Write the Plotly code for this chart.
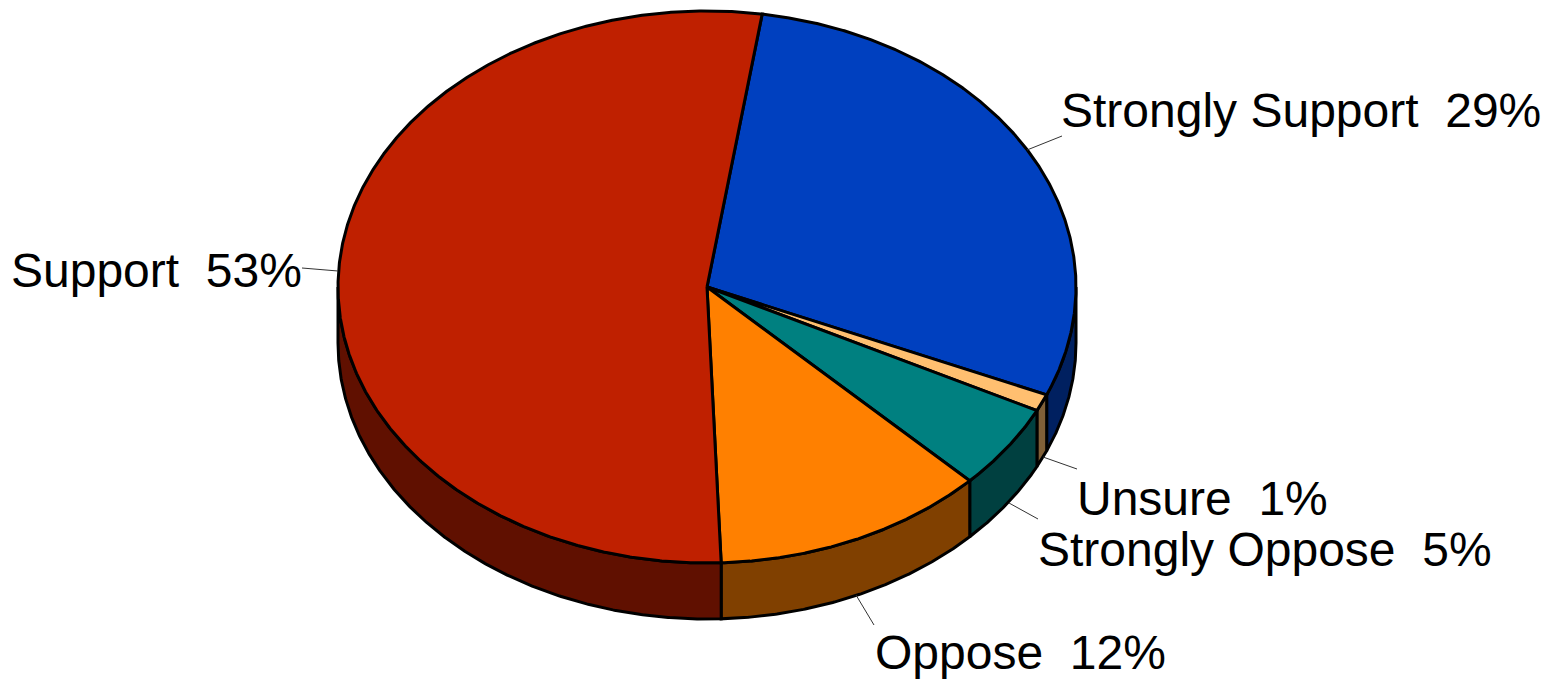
import numpy as np
import plotly.graph_objects as go

# Data, clockwise from the top
categories = ["Strongly Support", "Unsure", "Strongly Oppose", "Oppose", "Support"]
values = [29, 1, 5, 12, 53]

# Style
top_colors = ["#0040BF", "#FFBF70", "#008080", "#FF8000", "#BF2000"]
side_colors = ["#002060", "#806038", "#004040", "#804000", "#601000"]
FONT = "Liberation Sans"
CX, CY, RX, RY, DEPTH = 707, 287, 369, 276, 56
START_DEG = 8.6

# label anchor (x, y of text centre) and leader line (x0, y0, x1, y1) per category
label_pos = [(1301, 110), (1202, 498), (1265, 549), (1020, 652), (156, 270)]
leaders = [(1027, 150, 1062, 136), (1043, 457, 1077, 469), (1009, 503, 1038, 519),
           (856, 595, 874, 625), (302, 268, 338, 271)]


def rim(t0, t1, dy=0.0):
    n = max(2, int(abs(t1 - t0) * 4) + 2)
    t = np.radians(np.linspace(t0, t1, n))
    return CX + RX * np.sin(t), CY - RY * np.cos(t) + dy


fig = go.Figure()
edges = START_DEG + np.concatenate([[0], np.cumsum(values)]) * 360.0 / sum(values)

# side walls (only the front half of the rim is visible)
for i in range(len(values)):
    a, b = max(edges[i], 90), min(edges[i + 1], 270)
    if a < b:
        x1, y1 = rim(a, b)
        x2, y2 = rim(b, a, DEPTH)
        fig.add_trace(go.Scatter(
            x=np.r_[x1, x2, x1[0]], y=np.r_[y1, y2, y1[0]], mode="lines", fill="toself",
            fillcolor=side_colors[i], line=dict(color="black", width=3), hoverinfo="skip"))

# top faces
for i in range(len(values)):
    x, y = rim(edges[i], edges[i + 1])
    fig.add_trace(go.Scatter(
        x=np.r_[CX, x, CX], y=np.r_[CY, y, CY], mode="lines", fill="toself",
        fillcolor=top_colors[i], line=dict(color="black", width=3),
        name=categories[i], hoverinfo="name"))

shapes = [dict(type="line", x0=a, y0=b, x1=c, y1=d, line=dict(color="#333333", width=1))
          for a, b, c, d in leaders]
annotations = [dict(x=p[0], y=p[1], text=f"{c}\u00a0\u00a0{v}%", showarrow=False,
                    xanchor="center", yanchor="middle",
                    font=dict(family=FONT, size=48, color="black"))
               for c, v, p in zip(categories, values, label_pos)]

fig.update_layout(
    showlegend=False, paper_bgcolor="white", plot_bgcolor="white",
    margin=dict(l=0, r=0, t=0, b=0), width=1560, height=680,
    xaxis=dict(range=[0, 1560], visible=False, fixedrange=True),
    yaxis=dict(range=[680, 0], visible=False, fixedrange=True),
    shapes=shapes, annotations=annotations)

fig.write_html("out.html", config={"displayModeBar": False},
               post_script="document.body.style.margin='0';")
